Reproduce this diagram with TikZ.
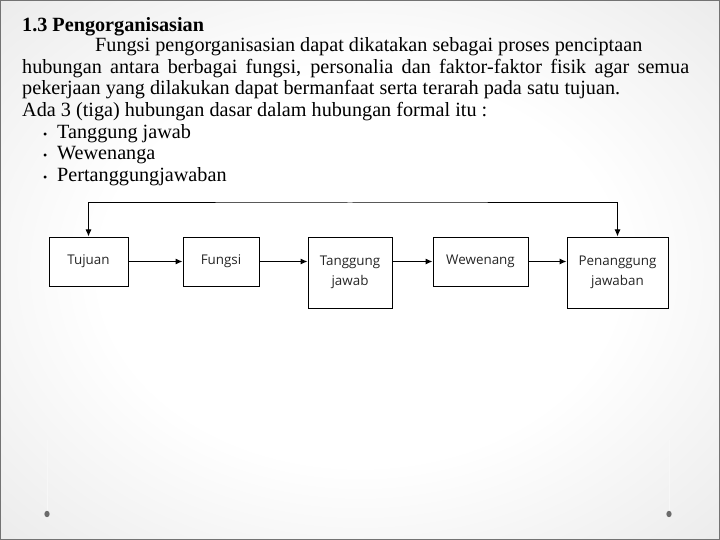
\documentclass[tikz,border=0pt]{standalone}
\usepackage{fontspec}
\setmainfont{Liberation Serif}
\newfontfamily\diagfont{Open Sans}
\usetikzlibrary{arrows.meta,calc}
\pgfdeclareradialshading{slidebg}{\pgfpoint{0bp}{0bp}}{color(0bp)=(white); color(18bp)=(white); color(34bp)=(black!7); color(50bp)=(black!16); color(72bp)=(black!22)}
\begin{document}
\begin{tikzpicture}[x=1pt,y=-1pt,
  txt/.style={anchor=base west,inner sep=0pt,font=\fontsize{20.2}{21.7}\selectfont},
  box/.style={draw=black,line width=1pt,fill=white,font=\diagfont\fontsize{13.4}{20}\selectfont,align=center,inner sep=0pt,text=black!85},
  arr/.style={-{Latex[length=7pt,width=6pt]},line width=1pt},
  dotmark/.style={fill=black!58,draw=none},
]
\useasboundingbox (0,0) rectangle (720,540);
\shade[shading=slidebg] (0,0) rectangle (720,540);
\draw[black!55,line width=1.5pt] (0,0) rectangle (720,540);

% faint guide lines and dots
\draw[black!3,line width=0.6pt] (47,440) -- (47,514);
\draw[black!3,line width=0.6pt] (669,440) -- (669,514);
\fill[dotmark] (47,514) ellipse (2.6pt and 3.2pt);
\fill[dotmark] (669,514) ellipse (2.6pt and 3.2pt);

% text
\node[txt] (t1) at (22,32) {\bfseries 1.3 Pengorganisasian};
\node[txt] (t2) at (95,52) {Fungsi pengorganisasian dapat dikatakan sebagai proses penciptaan};
\node[txt] (t3) at (22,74) {\makebox[667pt][s]{hubungan antara berbagai fungsi, personalia dan faktor-faktor fisik agar semua}};
\node[txt] (t4) at (22,95) {pekerjaan yang dilakukan dapat bermanfaat serta terarah pada satu tujuan.};
\node[txt] (t5) at (22,117) {Ada 3 (tiga) hubungan dasar dalam hubungan formal itu :};
\node[txt] (b1) at (43,139) {\fontsize{12}{12}\selectfont\textbullet};
\node[txt] (t6) at (57,139) {Tanggung jawab};
\node[txt] (b2) at (43,160) {\fontsize{12}{12}\selectfont\textbullet};
\node[txt] (t7) at (57,160) {Wewenanga};
\node[txt] (b3) at (43,182) {\fontsize{12}{12}\selectfont\textbullet};
\node[txt] (t8) at (57,182) {Pertanggungjawaban};

% diagram
\node[box,minimum width=79pt,minimum height=49pt] (tujuan) at (88.5,261.5) {Tujuan};
\node[box,minimum width=76pt,minimum height=49pt] (fungsi) at (221,261.5) {Fungsi};
\node[box,minimum width=84pt,minimum height=71pt] (tanggung) at (350,272.5) {Tanggung\\jawab};
\node[box,minimum width=95pt,minimum height=49pt] (wewenang) at (480.5,261.5) {Wewenang};
\node[box,minimum width=101pt,minimum height=71pt] (penanggung) at (617.5,272.5) {Penanggung\\jawaban};

\draw[arr] (tujuan.east) -- (fungsi.west);
\draw[arr] (fungsi.east) -- (fungsi.east -| tanggung.west);
\draw[arr] (wewenang.west -| tanggung.east) -- (wewenang.west);
\draw[arr] (wewenang.east) -- (wewenang.east -| penanggung.west);

\coordinate (fb) at (350,203);
\draw[{Latex[length=7pt,width=6pt]}-{Latex[length=7pt,width=6pt]},line width=1pt]
  (tujuan.north) |- (fb) -| (penanggung.north);
\end{tikzpicture}
\end{document}
